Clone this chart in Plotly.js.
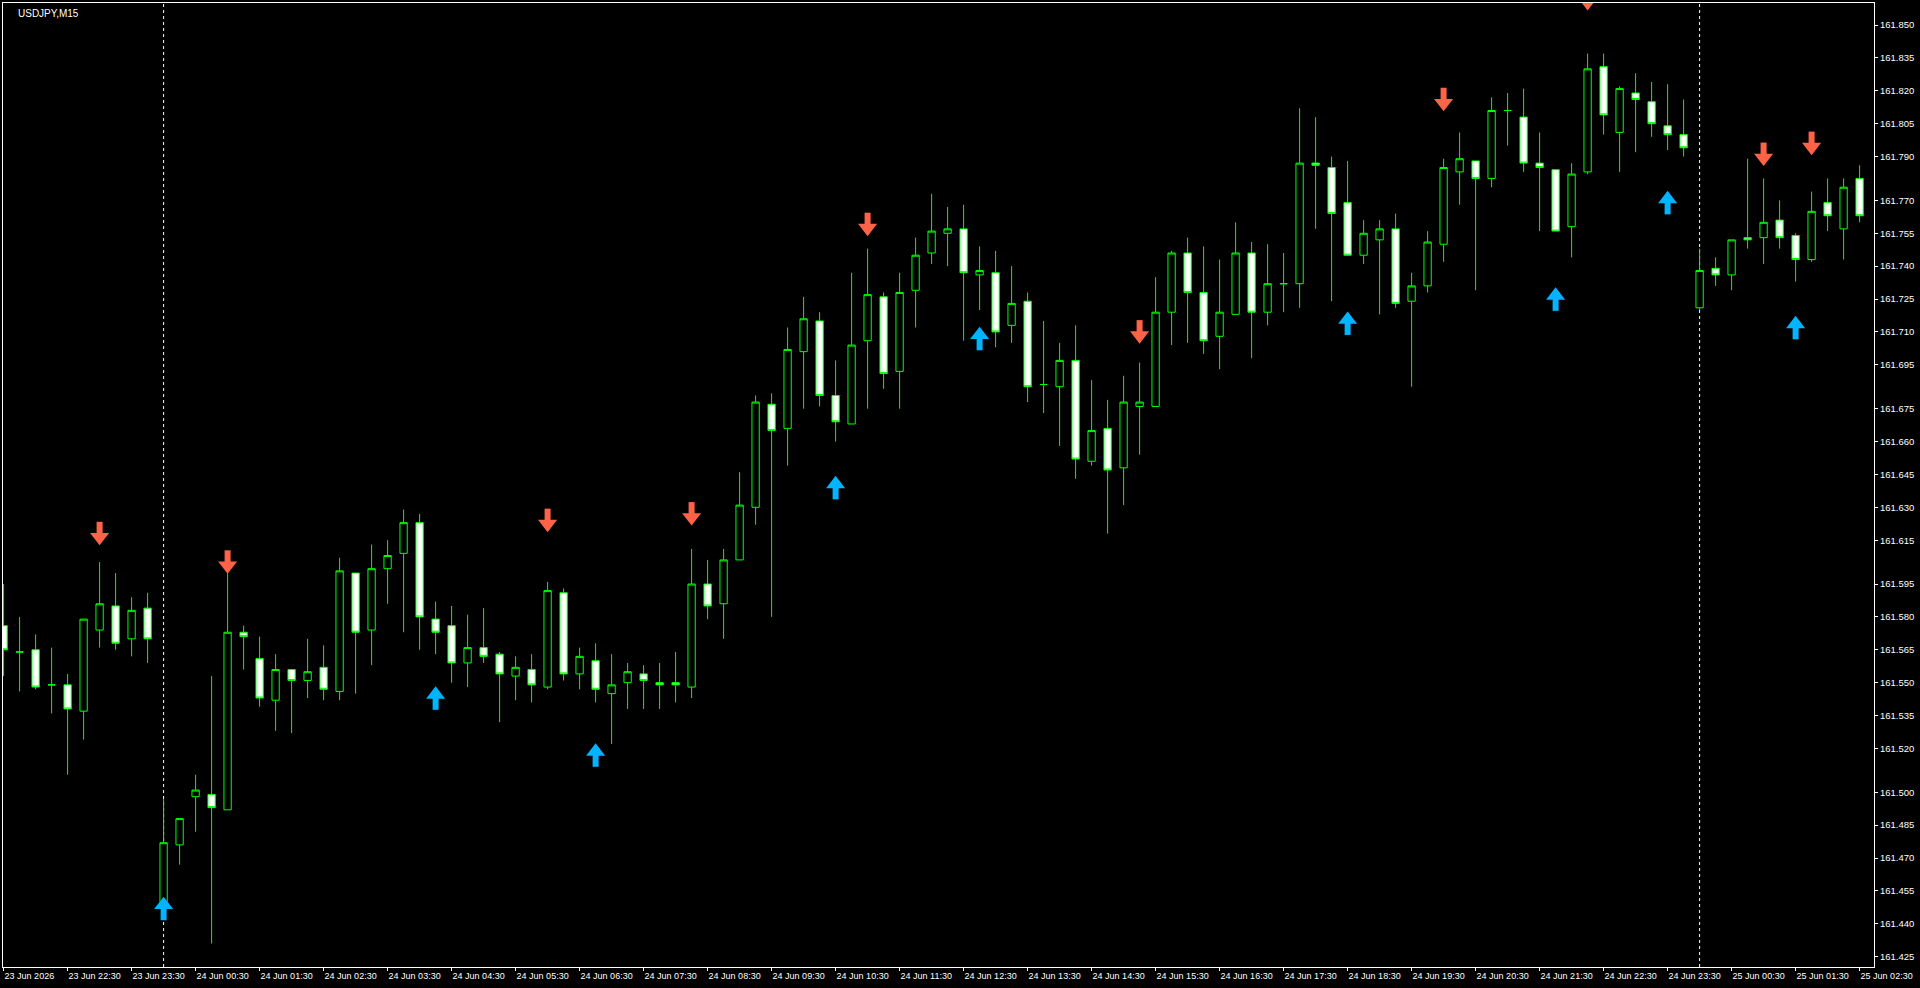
<!DOCTYPE html>
<html>
<head>
<meta charset="utf-8">
<script src="https://cdn.plot.ly/plotly-3.0.1.min.js"></script>
<style>
html,body{margin:0;padding:0;background:#000;overflow:hidden}
#chart{width:1920px;height:988px}
</style>
</head>
<body>
<div id="chart"></div>
<script>
// ---- chart data (USDJPY, M15) ----
const chartTitle = 'USDJPY,M15';

const openPrices = [
161.576,161.564,161.565,161.549,161.549,161.537,161.574,161.585,161.570,161.584,
161.450,161.476,161.498,161.499,161.492,161.573,161.561,161.542,161.556,161.551,
161.557,161.546,161.600,161.574,161.602,161.609,161.623,161.579,161.576,161.559,
161.566,161.563,161.553,161.556,161.548,161.591,161.554,161.560,161.545,161.550,
161.554,161.550,161.550,161.548,161.595,161.586,161.606,161.630,161.677,161.666,
161.701,161.715,161.681,161.668,161.706,161.726,161.692,161.729,161.746,161.755,
161.757,161.736,161.737,161.713,161.724,161.686,161.685,161.697,161.651,161.666,
161.648,161.676,161.676,161.719,161.746,161.728,161.708,161.718,161.746,161.719,
161.732,161.732,161.787,161.785,161.769,161.745,161.752,161.757,161.724,161.731,
161.750,161.783,161.788,161.780,161.811,161.808,161.787,161.784,161.758,161.783,
161.831,161.801,161.819,161.815,161.804,161.800,161.721,161.739,161.736,161.753,
161.753,161.761,161.754,161.743,161.769,161.757,161.780];

const highPrices = [
161.595,161.580,161.572,161.566,161.554,161.579,161.605,161.600,161.589,161.591,
161.497,161.488,161.508,161.553,161.600,161.576,161.571,161.563,161.556,161.570,
161.567,161.607,161.600,161.613,161.615,161.629,161.627,161.587,161.585,161.581,
161.584,161.564,161.562,161.563,161.596,161.593,161.566,161.568,161.563,161.559,
161.558,161.559,161.564,161.611,161.606,161.611,161.646,161.681,161.682,161.712,
161.726,161.719,161.697,161.737,161.748,161.728,161.737,161.753,161.773,161.767,
161.768,161.749,161.747,161.740,161.728,161.715,161.705,161.713,161.688,161.679,
161.690,161.696,161.735,161.747,161.753,161.749,161.743,161.760,161.751,161.750,
161.746,161.812,161.808,161.790,161.788,161.761,161.761,161.764,161.737,161.756,
161.789,161.801,161.788,161.817,161.819,161.821,161.801,161.784,161.787,161.837,
161.837,161.822,161.828,161.824,161.823,161.816,161.748,161.744,161.752,161.789,
161.780,161.770,161.755,161.774,161.780,161.780,161.786];

const lowPrices = [
161.553,161.546,161.547,161.536,161.508,161.524,161.566,161.565,161.562,161.559,
161.445,161.467,161.482,161.431,161.492,161.556,161.539,161.528,161.527,161.543,
161.542,161.542,161.545,161.558,161.586,161.573,161.565,161.563,161.550,161.548,
161.559,161.532,161.542,161.541,161.547,161.551,161.547,161.541,161.522,161.538,
161.538,161.538,161.541,161.543,161.579,161.570,161.606,161.622,161.580,161.649,
161.675,161.676,161.660,161.668,161.675,161.684,161.675,161.712,161.741,161.740,
161.706,161.720,161.703,161.705,161.678,161.673,161.658,161.643,161.649,161.618,
161.631,161.654,161.676,161.704,161.705,161.700,161.693,161.718,161.698,161.713,
161.719,161.721,161.757,161.724,161.745,161.741,161.718,161.721,161.685,161.728,
161.742,161.768,161.729,161.776,161.795,161.783,161.756,161.756,161.744,161.782,
161.800,161.783,161.792,161.799,161.793,161.790,161.720,161.731,161.729,161.748,
161.741,161.748,161.733,161.742,161.756,161.743,161.760];

const closePrices = [
161.565,161.564,161.548,161.549,161.538,161.579,161.586,161.568,161.583,161.570,
161.477,161.488,161.501,161.493,161.573,161.571,161.543,161.556,161.551,161.555,
161.547,161.601,161.573,161.602,161.608,161.623,161.580,161.573,161.559,161.566,
161.562,161.554,161.557,161.549,161.592,161.554,161.562,161.547,161.549,161.555,
161.551,161.549,161.549,161.595,161.585,161.606,161.631,161.678,161.665,161.702,
161.716,161.681,161.669,161.704,161.727,161.691,161.728,161.745,161.756,161.757,
161.737,161.738,161.710,161.723,161.685,161.686,161.697,161.652,161.665,161.647,
161.678,161.678,161.719,161.746,161.728,161.706,161.719,161.746,161.719,161.732,
161.732,161.787,161.786,161.764,161.745,161.755,161.757,161.723,161.731,161.751,
161.785,161.789,161.780,161.811,161.811,161.787,161.785,161.756,161.782,161.830,
161.809,161.821,161.816,161.805,161.800,161.794,161.738,161.736,161.752,161.752,
161.760,161.753,161.743,161.765,161.763,161.776,161.763];

// signal arrows: bar index and price level (arrow centre)
const sellSignalBars   = [6, 14, 34, 43, 54, 71, 90, 99, 110, 113];
const sellSignalPrices = [161.618,161.605,161.624,161.627,161.759,161.710,161.816,161.862,161.791,161.796];
const buySignalBars    = [10, 27, 37, 52, 61, 84, 97, 104, 112];
const buySignalPrices  = [161.447,161.543,161.517,161.639,161.707,161.714,161.725,161.769,161.712];

// day separators (first bar of a new day)
const daySeparatorBars = [10, 106];

// x tick labels (every 4th bar = hourly)
const xTickBars = [0,4,8,12,16,20,24,28,32,36,40,44,48,52,56,60,64,68,72,76,80,84,88,92,96,100,104,108,112,116];
const xTickLabels = ['23 Jun 2026','23 Jun 22:30','23 Jun 23:30','24 Jun 00:30','24 Jun 01:30','24 Jun 02:30',
 '24 Jun 03:30','24 Jun 04:30','24 Jun 05:30','24 Jun 06:30','24 Jun 07:30','24 Jun 08:30','24 Jun 09:30',
 '24 Jun 10:30','24 Jun 11:30','24 Jun 12:30','24 Jun 13:30','24 Jun 14:30','24 Jun 15:30','24 Jun 16:30',
 '24 Jun 17:30','24 Jun 18:30','24 Jun 19:30','24 Jun 20:30','24 Jun 21:30','24 Jun 22:30','24 Jun 23:30',
 '25 Jun 00:30','25 Jun 01:30','25 Jun 02:30'];

// y tick labels
const priceTicks = [161.850,161.835,161.820,161.805,161.790,161.770,161.755,161.740,161.725,161.710,161.695,
 161.675,161.660,161.645,161.630,161.615,161.595,161.580,161.565,161.550,161.535,161.520,161.500,161.485,
 161.470,161.455,161.440,161.425];

// ---- build ----
const W = 1920, H = 988;
const M = {l: 3, r: 46, t: 3, b: 21};
const yRange = [161.4203, 161.86004];
const pxPerPrice = (H - M.t - M.b) / (yRange[1] - yRange[0]);
const px = p => p / pxPerPrice;   // pixel offset -> price offset

const barIndex = openPrices.map((_, i) => i);
const FONT = 'Liberation Sans, Arial, sans-serif';
const RED = '#ff6347', BLUE = '#00b4ff';

const candles = {
  type: 'candlestick',
  x: barIndex, open: openPrices, high: highPrices, low: lowPrices, close: closePrices,
  increasing: {line: {color: '#00ff00', width: 1}, fillcolor: '#000000'},
  decreasing: {line: {color: '#00ff00', width: 1}, fillcolor: '#ffffff'},
  whiskerwidth: 0,
  hoverinfo: 'skip'
};

function arrowTraces(bars, prices, dir, color) {
  // dir = -1 for down arrow (head below), +1 for up arrow (head above)
  const headOffset = dir > 0 ? px(3.5) : -px(3.5);
  const shaftOffset = dir > 0 ? -px(5.5) : px(5.5);
  const shaft = {
    type: 'scatter', mode: 'markers',
    x: bars, y: prices.map(p => p + shaftOffset),
    marker: {symbol: 'line-ns', size: 9, line: {width: 6, color: color}, color: color},
    cliponaxis: true, hoverinfo: 'skip'
  };
  const head = {
    type: 'scatter', mode: 'markers',
    x: bars, y: prices.map(p => p + headOffset),
    marker: {symbol: dir > 0 ? 'triangle-up' : 'triangle-down', size: 16.5, color: color, line: {width: 0}},
    cliponaxis: true, hoverinfo: 'skip'
  };
  return [shaft, head];
}

const shapes = daySeparatorBars.map(b => ({
  type: 'line', xref: 'x', yref: 'paper', x0: b, x1: b, y0: 0, y1: 1,
  line: {color: '#ffffff', width: 1, dash: '3px,3px'}, layer: 'below'
}));

const layout = {
  width: W, height: H,
  paper_bgcolor: '#000000', plot_bgcolor: '#000000',
  margin: {l: M.l, r: M.r, t: M.t, b: M.b, pad: 0},
  showlegend: false,
  boxgap: 0.35,
  hovermode: false,
  xaxis: {
    range: [-0.0375, 116.9],
    tickmode: 'array', tickvals: xTickBars, ticktext: xTickLabels,
    tickangle: 0,
    showgrid: false, zeroline: false,
    showline: true, linecolor: '#ffffff', linewidth: 1, mirror: true,
    ticks: 'outside', ticklen: 3, tickcolor: '#ffffff', tickwidth: 1,
    ticklabelposition: 'outside right',
    tickfont: {family: FONT, size: 9, color: '#ffffff'},
    rangeslider: {visible: false}, fixedrange: true
  },
  yaxis: {
    side: 'right',
    range: yRange,
    tickmode: 'array', tickvals: priceTicks, tickformat: '.3f',
    showgrid: false, zeroline: false,
    showline: true, linecolor: '#ffffff', linewidth: 1, mirror: true,
    ticks: 'outside', ticklen: 3, tickcolor: '#ffffff', tickwidth: 1,
    tickfont: {family: FONT, size: 9.5, color: '#ffffff'},
    fixedrange: true
  },
  shapes: shapes,
  annotations: [{
    text: chartTitle, xref: 'paper', yref: 'paper', x: 0, y: 1,
    xanchor: 'left', yanchor: 'top', xshift: 13, yshift: -3, showarrow: false,
    font: {family: FONT, size: 10, color: '#ffffff'}
  }]
};

const traces = [candles]
  .concat(arrowTraces(sellSignalBars, sellSignalPrices, -1, RED))
  .concat(arrowTraces(buySignalBars, buySignalPrices, 1, BLUE));

Plotly.newPlot('chart', traces, layout, {staticPlot: true, displayModeBar: false});
</script>
</body>
</html>
